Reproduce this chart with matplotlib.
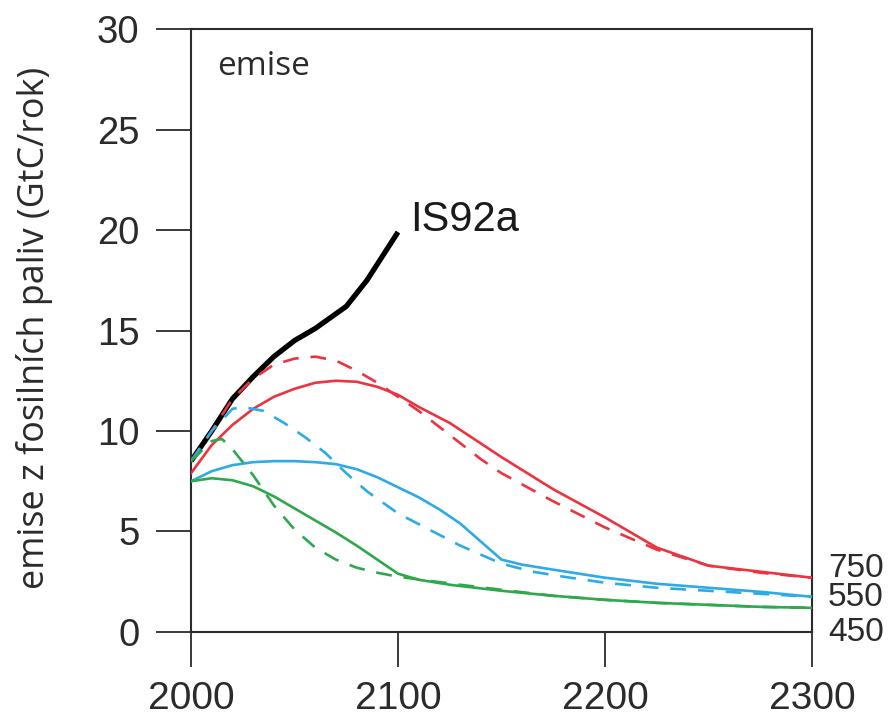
import matplotlib
matplotlib.use('Agg')
import matplotlib.pyplot as plt

# IS92a reference scenario
is92a_years = [2000, 2010, 2020, 2030, 2040, 2050, 2060, 2075, 2085, 2100]
is92a_vals = [8.5, 10.0, 11.6, 12.7, 13.7, 14.5, 15.1, 16.2, 17.5, 19.9]

# 750 ppm
red_years = [2000, 2010, 2020, 2030, 2040, 2050, 2060, 2070, 2080, 2090, 2100, 2110, 2125, 2150,
             2175, 2200, 2225, 2250, 2275, 2300]
red_solid = [7.9, 9.3, 10.3, 11.1, 11.7, 12.1, 12.4, 12.5, 12.45, 12.2, 11.8, 11.2, 10.4, 8.7,
             7.1, 5.7, 4.2, 3.3, 3.0, 2.7]
red_dash_years = [2000, 2010, 2020, 2030, 2040, 2050, 2060, 2070, 2080, 2090, 2100, 2110, 2125,
                  2140, 2150, 2175, 2200, 2225, 2250, 2275, 2300]
red_dash = [8.5, 10.0, 11.6, 12.6, 13.3, 13.6, 13.7, 13.5, 13.0, 12.4, 11.7, 11.0, 9.8,
            8.6, 7.9, 6.5, 5.2, 4.1, 3.3, 2.95, 2.7]

# 550 ppm
blue_years = [2000, 2010, 2020, 2030, 2040, 2050, 2060, 2070, 2080, 2090, 2100, 2110, 2120, 2130,
              2140, 2150, 2160, 2175, 2200, 2225, 2250, 2275, 2300]
blue_solid = [7.5, 8.0, 8.3, 8.45, 8.5, 8.5, 8.45, 8.35, 8.1, 7.7, 7.2, 6.7, 6.1, 5.4,
              4.5, 3.6, 3.35, 3.1, 2.7, 2.4, 2.2, 2.0, 1.75]
blue_dash_years = [2000, 2010, 2020, 2025, 2035, 2045, 2055, 2065, 2075, 2085, 2100, 2115, 2130,
                   2150, 2165, 2180, 2200, 2225, 2250, 2275, 2300]
blue_dash = [8.5, 10.0, 11.1, 11.2, 11.0, 10.4, 9.7, 8.9, 7.9, 7.0, 5.9, 5.1, 4.3,
             3.4, 3.0, 2.75, 2.45, 2.2, 2.05, 1.9, 1.75]

# 450 ppm
green_years = [2000, 2010, 2020, 2030, 2040, 2050, 2060, 2070, 2080, 2090, 2100, 2110, 2125, 2150,
               2175, 2200, 2225, 2250, 2275, 2300]
green_solid = [7.5, 7.65, 7.55, 7.25, 6.75, 6.15, 5.55, 4.95, 4.3, 3.6, 2.9, 2.6, 2.35, 2.05,
               1.8, 1.6, 1.45, 1.35, 1.25, 1.2]
green_dash_years = [2000, 2010, 2015, 2020, 2030, 2040, 2050, 2060, 2070, 2080, 2090, 2100, 2115,
                    2130, 2150, 2175, 2200, 2225, 2250, 2275, 2300]
green_dash = [8.5, 9.5, 9.6, 9.1, 7.8, 6.3, 5.1, 4.2, 3.6, 3.2, 2.95, 2.75, 2.55,
              2.35, 2.1, 1.8, 1.6, 1.45, 1.35, 1.25, 1.2]

end_labels = ['750', '550', '450']
end_label_y = [2.75, 1.3, -0.45]

RED = '#ec3340'
BLUE = '#2eaae4'
GREEN = '#2ea84c'
AX = '#2b2b2b'

fig = plt.figure(figsize=(8.93, 7.15), dpi=100)
ax = fig.add_axes([0.2139, 0.1161, 0.6954, 0.8433])

ax.plot(is92a_years, is92a_vals, color='black', lw=3.8, solid_capstyle='butt', zorder=2)

lw = 1.9
dash = (6, 4.5)
ax.plot(red_years, red_solid, color=RED, lw=lw, zorder=3)
ax.plot(red_dash_years, red_dash, color=RED, lw=lw, dashes=dash, zorder=3)
ax.plot(blue_years, blue_solid, color=BLUE, lw=lw, zorder=3)
ax.plot(blue_dash_years, blue_dash, color=BLUE, lw=lw, dashes=dash, zorder=3)
ax.plot(green_years, green_solid, color=GREEN, lw=lw, zorder=3)
ax.plot(green_dash_years, green_dash, color=GREEN, lw=lw, dashes=dash, zorder=3)

ax.set_xlim(2000, 2300)
ax.set_ylim(0, 30)
ax.set_xticks([2000, 2100, 2200, 2300])
ax.set_yticks([0, 5, 10, 15, 20, 25, 30])

for s in ax.spines.values():
    s.set_color(AX)
    s.set_linewidth(1.5)

ax.tick_params(axis='both', direction='out', length=25, width=1.3, color=AX,
               labelcolor=AX)
ax.tick_params(axis='y', pad=12, labelsize=27.5)
ax.tick_params(axis='x', pad=10, labelsize=28)
for lab in ax.get_xticklabels() + ax.get_yticklabels():
    lab.set_family('Liberation Sans')

ax.set_ylabel('emise z fosilních paliv (GtC/rok)', family='Open Sans', fontsize=25.8,
              color=AX)
ax.yaxis.set_label_coords(-0.222, 0.505)

ax.text(0.042, 0.924, 'emise', transform=ax.transAxes, family='Open Sans', fontsize=24,
        color=AX, va='baseline')
ax.text(2105.8, 19.95, 'IS92a', family='Liberation Sans', fontsize=30, color='#1a1a1a',
        va='baseline')

for lab, yv in zip(end_labels, end_label_y):
    ax.text(2307.7, yv, lab, family='Liberation Sans', fontsize=24, color=AX,
            va='baseline', clip_on=False)

fig.savefig('out.png', dpi=100)
